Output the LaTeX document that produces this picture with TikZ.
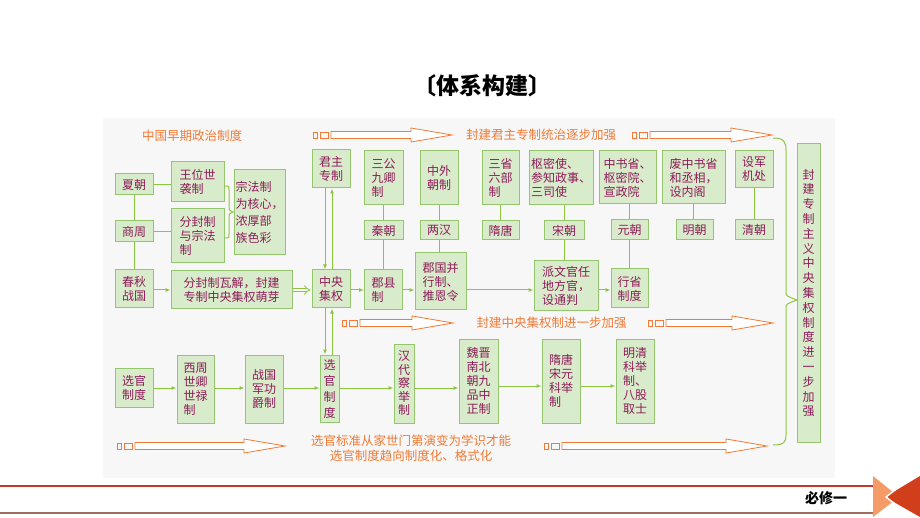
\documentclass[tikz,border=0pt]{standalone}
\usepackage{fontspec}
\setmainfont{Noto Sans CJK SC}
\usetikzlibrary{arrows.meta}

\definecolor{boxfill}{HTML}{D8EBCB}
\definecolor{boxline}{HTML}{95C66E}
\definecolor{linkgreen}{HTML}{8CC63F}
\definecolor{boxtext}{HTML}{8E1B5A}
\definecolor{orange}{HTML}{F07A36}
\definecolor{barred}{HTML}{C0392B}
\definecolor{bargray}{HTML}{A26B5E}

% squares + hollow arrow: start x, tip x, y
\newcommand{\orarrow}[3]{%
  \draw[orline] (#1,#3-3) rectangle ++(4,6);
  \draw[orline] (#1+7,#3-3) rectangle ++(8,6);
  \draw[orline, fill=white] (#1+18,#3-3.5) -- (#2-41,#3-3.5) -- (#2-41,#3-7) -- (#2,#3)
      -- (#2-41,#3+7) -- (#2-41,#3+3.5) -- (#1+18,#3+3.5) -- cycle;}

\begin{document}
\begin{tikzpicture}[x=1pt,y=-1pt,
    box/.style={draw=boxline, fill=boxfill, line width=1pt, text=boxtext, inner sep=0pt,
      align=center, font=\fontsize{12}{14}\selectfont},
    link/.style={draw=linkgreen, line width=1pt},
    arr/.style={link, -{Latex[length=5pt,width=4pt]}},
    orline/.style={draw=orange, line width=0.8pt},
    ortext/.style={text=orange, font=\fontsize{12.5}{15}\selectfont, align=center}]
    \useasboundingbox (0,0) rectangle (920,518);
    \fill[gray!6] (103,118) rectangle (835,478);
    \node[font=\bfseries\fontsize{23}{26}\selectfont] (title) at (482,86) {〔体系构建〕};
    \node[ortext] (zaoqi) at (192,136) {中国早期政治制度};
    \coordinate (midrow) at (0,290);
    \coordinate (lowrow) at (0,388);
        \node[box, minimum width=38, minimum height=21] (xia) at (134,184.5) {夏朝};
        \node[box, minimum width=38, minimum height=21] (shang) at (134,231.5) {商周};
        \node[box, minimum width=38, minimum height=38] (chunqiu) at (134,289) {春秋\\战国};
        \node[box, minimum width=53, minimum height=40, align=left] (wangwei) at (197.5,182) {王位世\\袭制};
        \node[box, minimum width=53, minimum height=54, align=left] (fenfeng) at (197.5,236) {分封制\\与宗法\\制};
        \node[box, minimum width=51, minimum height=85, align=left, font=\fontsize{12}{17}\selectfont] (zongfa) at (259.5,212.5) {宗法制\\为核心，\\浓厚部\\族色彩};
        \node[box, minimum width=121, minimum height=38] (wajie) at (231.5,290) {分封制瓦解，封建\\专制中央集权萌芽};
        \node[box, minimum width=38, minimum height=38] (junzhu) at (331,169) {君主\\专制};
        \node[box, minimum width=38, minimum height=38] (zhongyang) at (331,289) {中央\\集权};
        \node[box, minimum width=39, minimum height=54, align=left] (sangong) at (383.5,178) {三公\\九卿\\制};
        \node[box, minimum width=39, minimum height=19] (qin) at (383.5,230.5) {秦朝};
        \node[box, minimum width=38, minimum height=40, align=left] (junxian) at (383.5,290) {郡县\\制};
        \node[box, minimum width=38, minimum height=54] (zhongwai) at (439,178) {中外\\朝制};
        \node[box, minimum width=38, minimum height=19] (lianghan) at (439,230.5) {两汉};
        \node[box, minimum width=51, minimum height=57, align=left] (junguo) at (440.5,281.5) {郡国并\\行制、\\推恩令};
        \node[box, minimum width=37, minimum height=54, align=left] (sansheng) at (500.5,178) {三省\\六部\\制};
        \node[box, minimum width=37, minimum height=19] (suitang) at (500.5,230.5) {隋唐};
        \node[box, minimum width=64, minimum height=54, align=left] (shumi) at (561,178) {枢密使、\\参知政事、\\三司使};
        \node[box, minimum width=40, minimum height=19] (song) at (564,230.5) {宋朝};
        \node[box, minimum width=64, minimum height=50, align=left] (paiwen) at (566,286) {派文官任\\地方官，\\设通判};
        \node[box, minimum width=57, minimum height=53, align=left] (zhongshu) at (627.5,177.5) {中书省、\\枢密院、\\宣政院};
        \node[box, minimum width=37, minimum height=20] (yuan) at (629.5,230) {元朝};
        \node[box, minimum width=37, minimum height=39] (xingsheng) at (629.5,288.5) {行省\\制度};
        \node[box, minimum width=63, minimum height=53, align=left] (feizhong) at (693.5,177.5) {废中书省\\和丞相，\\设内阁};
        \node[box, minimum width=37, minimum height=20] (ming) at (694.5,230) {明朝};
        \node[box, minimum width=38, minimum height=37] (junji) at (754,169.5) {设军\\机处};
        \node[box, minimum width=38, minimum height=20] (qing) at (754,230) {清朝};
        \node[box, minimum width=23, minimum height=298, font=\fontsize{12}{14.8}\selectfont] (jiaqiang) at (808.5,293)
            {封\\建\\专\\制\\主\\义\\中\\央\\集\\权\\制\\度\\进\\一\\步\\加\\强};
        \node[box, minimum width=38, minimum height=39] (xuanguanA) at (134,387.5) {选官\\制度};
        \node[box, minimum width=37, minimum height=68, align=left] (xizhou) at (195.5,389) {西周\\世卿\\世禄\\制};
        \node[box, minimum width=38, minimum height=68] (zhanguo) at (264,389) {战国\\军功\\爵制};
        \node[box, minimum width=19, minimum height=67, font=\fontsize{12}{16}\selectfont] (xuanguanB) at (329.5,388.5) {选\\官\\制\\度};
        \node[box, minimum width=20, minimum height=79, font=\fontsize{12}{13.5}\selectfont] (handai) at (404,383.5) {汉\\代\\察\\举\\制};
        \node[box, minimum width=39, minimum height=84] (weijin) at (478.5,381) {魏晋\\南北\\朝九\\品中\\正制};
        \node[box, minimum width=38, minimum height=84, align=left] (suitangB) at (561,381) {隋唐\\宋元\\科举\\制};
        \node[box, minimum width=38, minimum height=84] (mingqing) at (635,381) {明清\\科举\\制、\\八股\\取士};
    \draw[link] (xia) -- (xia -| wangwei.west);
    \draw[link] (shang) -- (shang -| fenfeng.west);
    \draw[link] (xia) -- (shang) -- (chunqiu);
    \draw[link] (225,186) .. controls (229,186) .. (229,190) -- (229,207) .. controls (229,210) .. (233,212)
        .. controls (229,214) .. (229,217) -- (229,234) .. controls (229,238) .. (225,238);
    \draw[arr] (chunqiu.east |- midrow) -- (wajie.west |- midrow);
    \draw[draw=linkgreen, line width=0.8pt, double, double distance=2.5pt, -{Implies}]
        (wajie.east |- midrow) -- ([xshift=-1pt]zhongyang.west |- midrow);
    \draw[arr] ([xshift=-6pt]junzhu.south) -- ([xshift=-6pt]zhongyang.north);
    \draw[arr] ([xshift=1pt]zhongyang.north) -- ([xshift=1pt]junzhu.south);
    \draw[arr] ([xshift=-6pt]zhongyang.south) -- ([xshift=-6pt]zhongyang.south |- xuanguanB.north);
    \draw[arr] ([xshift=1pt]zhongyang.south |- xuanguanB.north) -- ([xshift=1pt]zhongyang.south);
    \draw[arr] (zhongyang.east |- midrow) -- (junxian.west |- midrow);
    \draw[arr] (junxian.east |- midrow) -- (junguo.west |- midrow);
    \draw[arr] (junguo.east |- midrow) -- (paiwen.west |- midrow);
    \draw[arr] (paiwen.east |- midrow) -- (xingsheng.west |- midrow);
    \draw[link] (sangong) -- (sangong |- qin.north);
    \draw[link] (qin) -- (qin |- junxian.north);
    \draw[link] (zhongwai) -- (zhongwai |- lianghan.north);
    \draw[link] (lianghan) -- (lianghan |- junguo.north);
    \draw[link] (sansheng) -- (sansheng |- suitang.north);
    \draw[link] (song |- shumi.south) -- (song.north);
    \draw[link] (song) -- (song |- paiwen.north);
    \draw[link] (yuan |- zhongshu.south) -- (yuan.north);
    \draw[link] (yuan) -- (xingsheng);
    \draw[link] (feizhong) -- (feizhong |- ming.north);
    \draw[link] (junji) -- (qing);
    \draw[link] (773,138) .. controls (784,138) and (786,142) .. (786,150) -- (786,292)
        .. controls (786,296) .. (797,300) .. controls (786,304) .. (786,308) -- (786,435)
        .. controls (786,442) and (784,445) .. (773,445);
    \draw[arr] (xuanguanA.east |- lowrow) -- (xizhou.west |- lowrow);
    \draw[arr] (xizhou.east |- lowrow) -- (zhanguo.west |- lowrow);
    \draw[arr] (zhanguo.east |- lowrow) -- (xuanguanB.west |- lowrow);
    \draw[arr] (xuanguanB.east |- lowrow) -- (handai.west |- lowrow);
    \draw[arr] (handai.east |- lowrow) -- (weijin.west |- lowrow);
    \draw[arr] (weijin.east |- 0,386) -- (suitangB.west |- 0,386);
    \draw[arr] (suitangB.east |- 0,386) -- (mingqing.west |- 0,386);
    \orarrow{313}{452}{135}
    \node[ortext] (junzhutext) at (541,135) {封建君主专制统治逐步加强};
    \orarrow{632}{772}{135}
    \orarrow{342}{453}{323}
    \node[ortext] (jiquantext) at (551.5,323) {封建中央集权制进一步加强};
    \orarrow{648}{773}{323}
    \orarrow{117}{285}{446}
    \node[ortext] (xuanguantext) at (411,448) {选官标准从家世门第演变为学识才能\\选官制度趋向制度化、格式化};
    \orarrow{544}{767}{446}
    \draw[barred, line width=1.5pt] (0,486) -- (873,486);
    \draw[bargray, line width=1.5pt] (0,513) -- (873,513);
    \node[font=\bfseries\fontsize{14}{16}\selectfont] (bixiu) at (826,498) {必修一};
    \fill[orange!75!white] (873,476) -- (873,517) -- (899,497) -- cycle;
    \fill[orange!60!red!85!black] (920,476) -- (920,517) -- (885,497) -- cycle;
    \draw[white, line width=1.5pt] (904,483) -- (886,497) -- (904,511);
\end{tikzpicture}
\end{document}
